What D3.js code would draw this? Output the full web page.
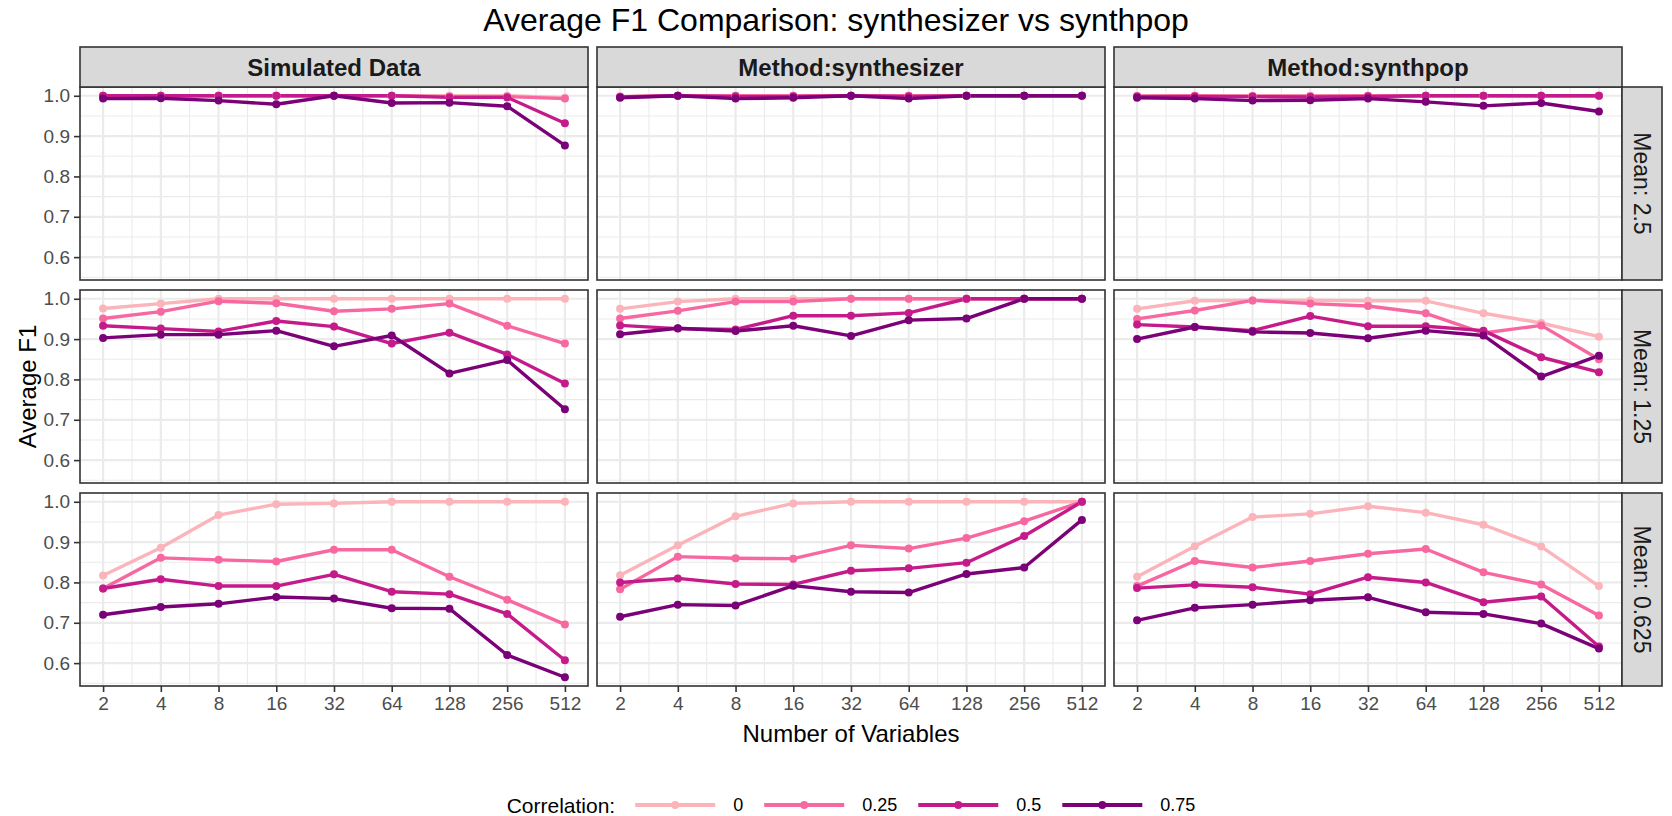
<!DOCTYPE html>
<html>
<head>
<meta charset="utf-8">
<script src="https://cdn.jsdelivr.net/npm/d3@7"></script>
<style>
  html, body { margin: 0; padding: 0; background: #ffffff; }
  svg { display: block; font-family: "Liberation Sans", Arial, sans-serif; }
</style>
</head>
<body>
<svg id="chart" width="1672" height="816"></svg>
<script>
// ---- data -------------------------------------------------------------
const varCounts = [2, 4, 8, 16, 32, 64, 128, 256, 512];
const xTickLabels = ["2", "4", "8", "16", "32", "64", "128", "256", "512"];
const yTicks = [0.6, 0.7, 0.8, 0.9, 1.0];
const methods = ["Simulated Data", "Method:synthesizer", "Method:synthpop"];
const meanLabels = ["Mean: 2.5", "Mean: 1.25", "Mean: 0.625"];
const correlations = ["0", "0.25", "0.5", "0.75"];
const corrColors = ["#FBB4B9", "#F768A1", "#C51B8A", "#7A0177"];

// Average F1 per correlation level (rows: 0, 0.25, 0.5, 0.75)
const simulated_2_5 = [
  [1.000, 1.000, 1.000, 1.000, 1.000, 1.000, 1.000, 1.000, 0.995],
  [1.000, 1.000, 1.000, 1.000, 1.000, 1.000, 0.998, 0.998, 0.993],
  [1.000, 1.000, 1.000, 1.000, 1.000, 1.000, 0.996, 0.996, 0.932],
  [0.993, 0.994, 0.988, 0.979, 1.000, 0.982, 0.983, 0.974, 0.877]
];
const synthesizer_2_5 = [
  [0.998, 1.000, 1.000, 1.000, 1.000, 1.000, 1.000, 1.000, 1.000],
  [0.998, 1.000, 1.000, 1.000, 1.000, 1.000, 1.000, 1.000, 1.000],
  [0.997, 1.000, 0.998, 0.998, 1.000, 0.998, 1.000, 1.000, 1.000],
  [0.995, 1.000, 0.993, 0.995, 1.000, 0.993, 1.000, 1.000, 1.000]
];
const synthpop_2_5 = [
  [1.000, 1.000, 1.000, 1.000, 1.000, 1.000, 1.000, 1.000, 1.000],
  [0.999, 1.000, 0.999, 0.999, 1.000, 1.000, 1.000, 1.000, 1.000],
  [0.998, 0.998, 0.998, 0.997, 0.998, 1.000, 1.000, 1.000, 1.000],
  [0.995, 0.993, 0.988, 0.989, 0.993, 0.985, 0.975, 0.982, 0.961]
];
const simulated_1_25 = [
  [0.976, 0.988, 1.000, 1.000, 1.000, 1.000, 1.000, 1.000, 1.000],
  [0.951, 0.968, 0.994, 0.989, 0.969, 0.975, 0.988, 0.933, 0.889],
  [0.933, 0.926, 0.919, 0.945, 0.931, 0.889, 0.916, 0.862, 0.790],
  [0.903, 0.911, 0.911, 0.921, 0.882, 0.909, 0.815, 0.848, 0.726]
];
const synthesizer_1_25 = [
  [0.975, 0.993, 1.000, 1.000, 1.000, 1.000, 1.000, 1.000, 1.000],
  [0.951, 0.970, 0.993, 0.993, 1.000, 1.000, 1.000, 1.000, 1.000],
  [0.934, 0.926, 0.924, 0.958, 0.958, 0.965, 1.000, 1.000, 1.000],
  [0.912, 0.927, 0.920, 0.933, 0.908, 0.947, 0.951, 1.000, 1.000]
];
const synthpop_1_25 = [
  [0.975, 0.995, 0.996, 0.996, 0.995, 0.995, 0.964, 0.940, 0.906],
  [0.950, 0.971, 0.996, 0.988, 0.982, 0.964, 0.915, 0.934, 0.850],
  [0.936, 0.930, 0.921, 0.957, 0.932, 0.932, 0.921, 0.855, 0.818],
  [0.900, 0.930, 0.918, 0.915, 0.902, 0.921, 0.909, 0.807, 0.859]
];
const simulated_0_625 = [
  [0.817, 0.886, 0.967, 0.994, 0.996, 1.000, 1.000, 1.000, 1.000],
  [0.785, 0.861, 0.856, 0.852, 0.881, 0.881, 0.814, 0.757, 0.696],
  [0.785, 0.808, 0.791, 0.791, 0.820, 0.777, 0.771, 0.722, 0.607],
  [0.720, 0.739, 0.747, 0.764, 0.760, 0.736, 0.735, 0.620, 0.565]
];
const synthesizer_0_625 = [
  [0.818, 0.892, 0.964, 0.996, 1.000, 1.000, 1.000, 1.000, 1.000],
  [0.783, 0.864, 0.860, 0.859, 0.892, 0.884, 0.910, 0.952, 1.000],
  [0.800, 0.810, 0.796, 0.795, 0.829, 0.835, 0.849, 0.915, 1.000],
  [0.715, 0.745, 0.743, 0.792, 0.777, 0.775, 0.821, 0.837, 0.955]
];
const synthpop_0_625 = [
  [0.814, 0.890, 0.962, 0.970, 0.989, 0.973, 0.943, 0.889, 0.791],
  [0.791, 0.853, 0.837, 0.853, 0.871, 0.883, 0.825, 0.795, 0.718],
  [0.786, 0.794, 0.788, 0.771, 0.813, 0.800, 0.751, 0.765, 0.641],
  [0.706, 0.737, 0.745, 0.756, 0.763, 0.726, 0.722, 0.698, 0.636]
];

// facet grid: rows are mean levels, columns are methods
const panelData = [
  [simulated_2_5, synthesizer_2_5, synthpop_2_5],
  [simulated_1_25, synthesizer_1_25, synthpop_1_25],
  [simulated_0_625, synthesizer_0_625, synthpop_0_625]
];

// ---- layout -----------------------------------------------------------
const width = 1672;
const panelLeft = 80;
const panelW = 508;
const colGap = 9;
const stripTop = 47;
const stripH = 40;
const panelTop = stripTop + stripH;
const panelH = 193;
const rowGap = 10;
const rightStripW = 40;

const colX = c => panelLeft + c * (panelW + colGap);
const rowY = r => panelTop + r * (panelH + rowGap);
const panelsRight = colX(2) + panelW;
const panelsBottom = rowY(2) + panelH;

const svg = d3.select("#chart");

// ---- scales -----------------------------------------------------------
const lx0 = Math.log2(d3.min(varCounts)), lx1 = Math.log2(d3.max(varCounts));
const xPad = (lx1 - lx0) * 0.05;
const x = d3.scaleLog().base(2)
  .domain([Math.pow(2, lx0 - xPad), Math.pow(2, lx1 + xPad)])
  .range([0, panelW]);

const allVals = panelData.flat(3);
const yMin = d3.min(allVals), yMax = d3.max(allVals);
const yPad = (yMax - yMin) * 0.05;
const y = d3.scaleLinear()
  .domain([yMin - yPad, yMax + yPad])
  .range([panelH, 0]);

const xMinor = varCounts.slice(0, -1).map(v => v * Math.SQRT2);
const yMinor = d3.range(0.55, 1.0, 0.1).filter(v => v > y.domain()[0] && v < y.domain()[1]);

const line = d3.line().x((d, i) => x(varCounts[i])).y(d => y(d));

// ---- title ------------------------------------------------------------
svg.append("text")
  .attr("x", width / 2)
  .attr("y", 31)
  .attr("text-anchor", "middle")
  .attr("font-size", 32)
  .attr("fill", "#000")
  .text("Average F1 Comparison: synthesizer vs synthpop");

// ---- panels -----------------------------------------------------------
for (let r = 0; r < 3; r++) {
  for (let c = 0; c < 3; c++) {
    const g = svg.append("g").attr("transform", `translate(${colX(c)},${rowY(r)})`);

    g.append("rect").attr("width", panelW).attr("height", panelH).attr("fill", "#fff");

    // minor grid
    g.selectAll(".xminor").data(xMinor).join("line")
      .attr("x1", d => x(d)).attr("x2", d => x(d))
      .attr("y1", 0).attr("y2", panelH)
      .attr("stroke", "#EBEBEB").attr("stroke-width", 1.1);
    g.selectAll(".yminor").data(yMinor).join("line")
      .attr("x1", 0).attr("x2", panelW)
      .attr("y1", d => y(d)).attr("y2", d => y(d))
      .attr("stroke", "#EBEBEB").attr("stroke-width", 1.1);
    // major grid
    g.selectAll(".xmajor").data(varCounts).join("line")
      .attr("x1", d => x(d)).attr("x2", d => x(d))
      .attr("y1", 0).attr("y2", panelH)
      .attr("stroke", "#EBEBEB").attr("stroke-width", 2.2);
    g.selectAll(".ymajor").data(yTicks).join("line")
      .attr("x1", 0).attr("x2", panelW)
      .attr("y1", d => y(d)).attr("y2", d => y(d))
      .attr("stroke", "#EBEBEB").attr("stroke-width", 2.2);

    const series = panelData[r][c];
    // lines first, then points
    series.forEach((vals, k) => {
      g.append("path").datum(vals)
        .attr("d", line)
        .attr("fill", "none")
        .attr("stroke", corrColors[k])
        .attr("stroke-width", 3.4)
        .attr("stroke-linejoin", "round");
    });
    series.forEach((vals, k) => {
      g.selectAll(null).data(vals).join("circle")
        .attr("cx", (d, i) => x(varCounts[i]))
        .attr("cy", d => y(d))
        .attr("r", 4)
        .attr("fill", corrColors[k]);
    });

    // panel border
    g.append("rect").attr("width", panelW).attr("height", panelH)
      .attr("fill", "none").attr("stroke", "#333333").attr("stroke-width", 1.6);

    // left axis
    if (c === 0) {
      const ax = g.append("g").call(d3.axisLeft(y).tickValues(yTicks).tickFormat(d3.format(".1f")).tickSize(6).tickPadding(4));
      ax.select(".domain").remove();
      ax.selectAll(".tick line").attr("stroke", "#333333").attr("stroke-width", 1.6);
      ax.selectAll(".tick text").attr("font-size", 19).attr("fill", "#4D4D4D")
        .attr("font-family", "Liberation Sans, Arial, sans-serif");
    }
    // bottom axis
    if (r === 2) {
      const ax = g.append("g").attr("transform", `translate(0,${panelH})`)
        .call(d3.axisBottom(x).tickValues(varCounts).tickFormat((d, i) => xTickLabels[i]).tickSize(6).tickPadding(5));
      ax.select(".domain").remove();
      ax.selectAll(".tick line").attr("stroke", "#333333").attr("stroke-width", 1.6);
      ax.selectAll(".tick text").attr("font-size", 19).attr("fill", "#4D4D4D")
        .attr("font-family", "Liberation Sans, Arial, sans-serif");
    }
  }
}

// ---- strips -----------------------------------------------------------
methods.forEach((m, c) => {
  const g = svg.append("g").attr("transform", `translate(${colX(c)},${stripTop})`);
  g.append("rect").attr("width", panelW).attr("height", stripH)
    .attr("fill", "#D9D9D9").attr("stroke", "#333333").attr("stroke-width", 1.6);
  g.append("text").attr("x", panelW / 2).attr("y", stripH / 2)
    .attr("text-anchor", "middle").attr("dominant-baseline", "central")
    .attr("font-size", 24).attr("font-weight", "bold").attr("fill", "#1A1A1A")
    .text(m);
});
meanLabels.forEach((m, r) => {
  const g = svg.append("g").attr("transform", `translate(${panelsRight},${rowY(r)})`);
  g.append("rect").attr("width", rightStripW).attr("height", panelH)
    .attr("fill", "#D9D9D9").attr("stroke", "#333333").attr("stroke-width", 1.6);
  g.append("text")
    .attr("transform", `translate(${rightStripW / 2},${panelH / 2}) rotate(90)`)
    .attr("text-anchor", "middle").attr("dominant-baseline", "central")
    .attr("font-size", 23).attr("fill", "#1A1A1A")
    .text(m);
});

// ---- axis titles ------------------------------------------------------
svg.append("text")
  .attr("x", (panelLeft + panelsRight) / 2).attr("y", 742)
  .attr("text-anchor", "middle").attr("font-size", 24).attr("fill", "#000")
  .text("Number of Variables");
svg.append("text")
  .attr("transform", `translate(27,${(panelTop + panelsBottom) / 2}) rotate(-90)`)
  .attr("text-anchor", "middle").attr("dominant-baseline", "central")
  .attr("font-size", 24).attr("fill", "#000")
  .text("Average F1");

// ---- legend -----------------------------------------------------------
const legendY = 805;
const keyW = 80;
const legend = svg.append("g");
let cursor = 0;
const ltitle = legend.append("text").attr("x", cursor).attr("y", legendY)
  .attr("dominant-baseline", "central").attr("font-size", 21).attr("fill", "#000")
  .text("Correlation:");
cursor += ltitle.node().getComputedTextLength() + 20;
correlations.forEach((lab, k) => {
  legend.append("line")
    .attr("x1", cursor).attr("x2", cursor + keyW)
    .attr("y1", legendY).attr("y2", legendY)
    .attr("stroke", corrColors[k]).attr("stroke-width", 3.8);
  legend.append("circle")
    .attr("cx", cursor + keyW / 2).attr("cy", legendY).attr("r", 4)
    .attr("fill", corrColors[k]);
  cursor += keyW + 18;
  const t = legend.append("text").attr("x", cursor).attr("y", legendY)
    .attr("dominant-baseline", "central").attr("font-size", 18).attr("fill", "#000")
    .text(lab);
  cursor += t.node().getComputedTextLength() + (k < correlations.length - 1 ? 21 : 0);
});
legend.attr("transform", `translate(${(panelLeft + panelsRight) / 2 - cursor / 2},0)`);
</script>
</body>
</html>
